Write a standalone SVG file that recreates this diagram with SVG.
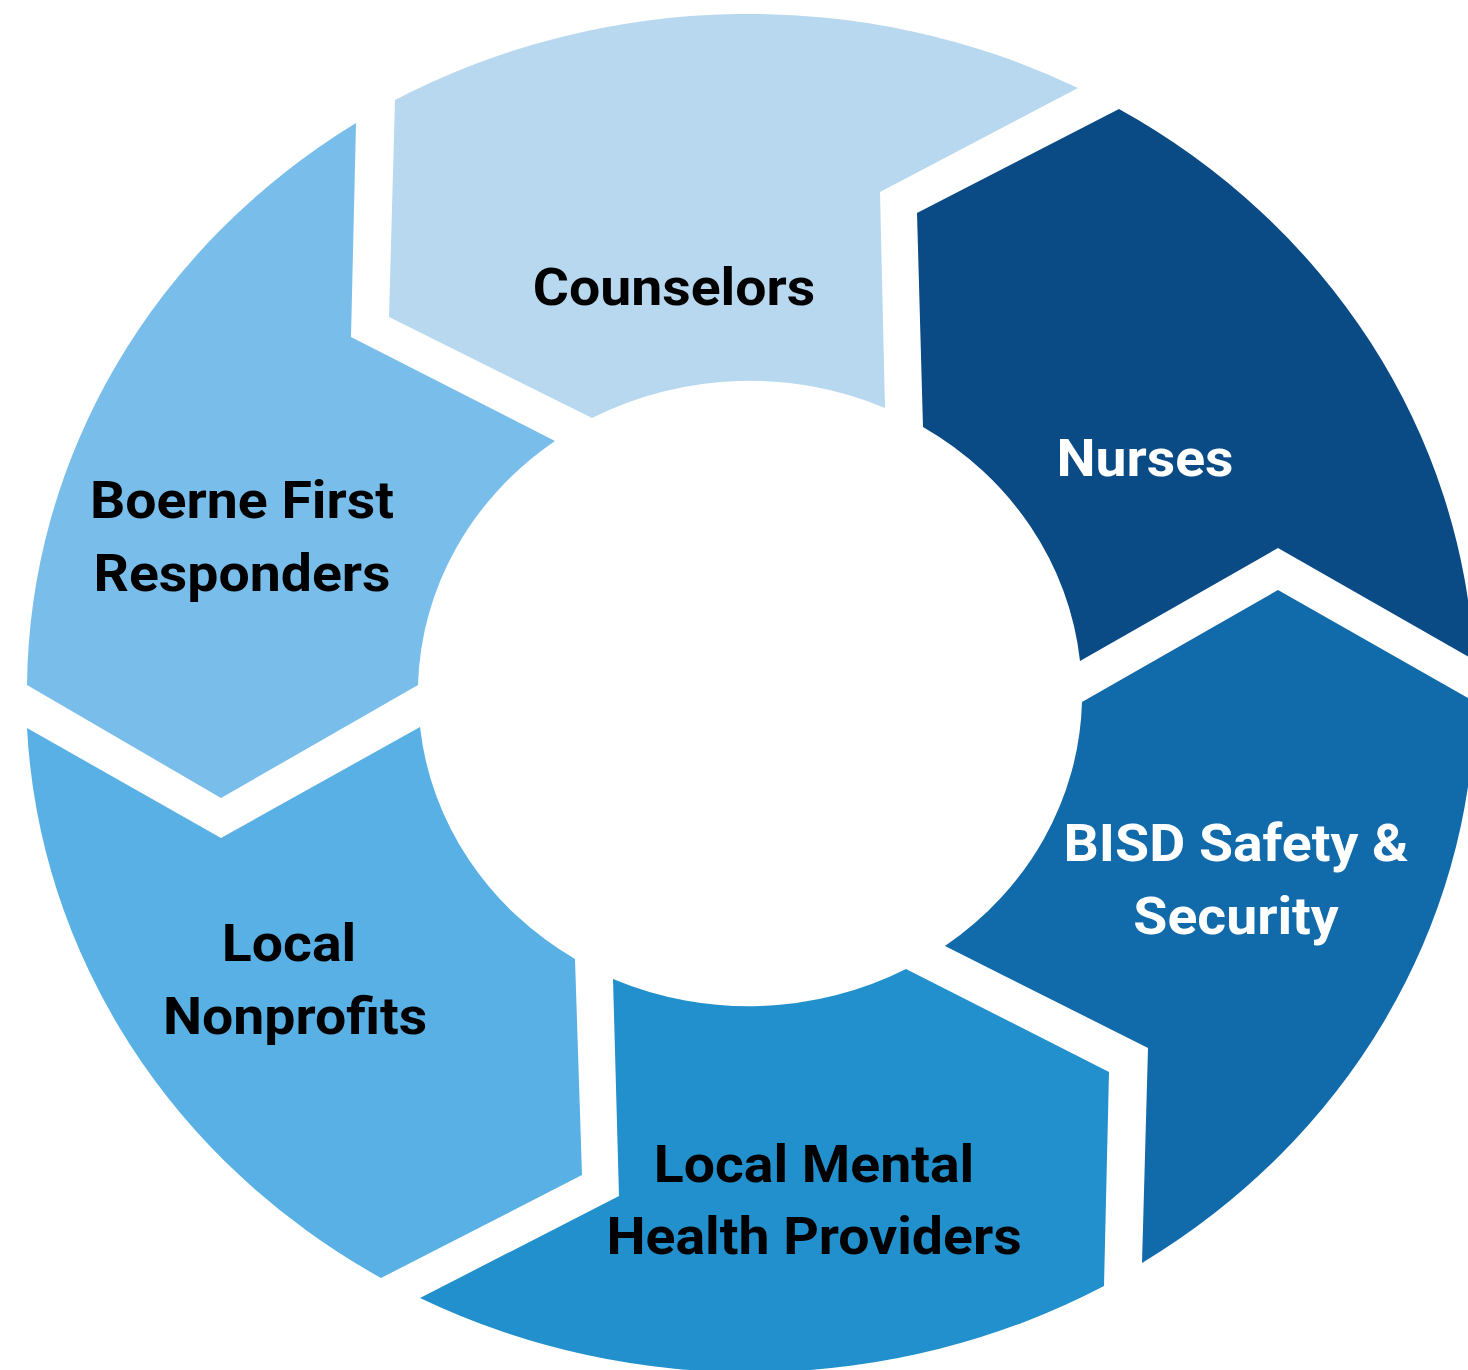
<svg xmlns="http://www.w3.org/2000/svg" width="1468" height="1370" viewBox="0 0 1468 1370">
  <style>
    .lbl { font-family: Roboto, "Liberation Sans", Arial, sans-serif; font-weight: 700; font-size: 52px; text-anchor: middle; }
    .dark { fill: #000000; }
    .light { fill: #ffffff; }
  </style>
  <rect width="1468" height="1370" fill="#ffffff"/>
  <g id="connectors"></g>
  <g id="counselors">
    <path fill="#B8D8EF" d="M 395,100 A 725 678.5 0 0 1 1078,88 L 880,192 L 885,408 A 332 311.5 0 0 0 592,418 L 389,317 Z"/>
    <text class="lbl dark" transform="translate(674,305) scale(1.065,1)">Counselors</text>
  </g>
  <g id="nurses">
    <path fill="#0A4A85" d="M 1119,109 A 725 678.5 0 0 1 1474,660 L 1278,548 L 1080,661 A 332 311.5 0 0 0 923,427 L 917,213 Z"/>
    <text class="lbl light" transform="translate(1145,476) scale(1.065,1)">Nurses</text>
  </g>
  <g id="bisd">
    <path fill="#116AAA" d="M 1278,590 L 1475,702 A 725 678.5 0 0 1 1142,1263 L 1148,1048 L 945,946 A 332 311.5 0 0 0 1082,702 Z"/>
    <text class="lbl light" transform="translate(1236,861) scale(1.065,1)">BISD Safety &amp;</text>
    <text class="lbl light" transform="translate(1236,934) scale(1.065,1)">Security</text>
  </g>
  <g id="mental">
    <path fill="#2290CD" d="M 1109,1072 L 1104,1286 A 725 678.5 0 0 1 420,1298 L 619,1196 L 613,979 A 332 311.5 0 0 0 906,969 Z"/>
    <text class="lbl dark" transform="translate(814,1182) scale(1.065,1)">Local Mental</text>
    <text class="lbl dark" transform="translate(814,1254) scale(1.065,1)">Health Providers</text>
  </g>
  <g id="nonprofits">
    <path fill="#59B0E4" d="M 582,1175 L 381,1278 A 725 678.5 0 0 1 27,728 L 221,838 L 420,727 A 332 311.5 0 0 0 575,959 Z"/>
    <text class="lbl dark" transform="translate(289,961) scale(1.065,1)">Local</text>
    <text class="lbl dark" transform="translate(295,1034) scale(1.065,1)">Nonprofits</text>
  </g>
  <g id="boerne">
    <path fill="#79BEEA" d="M 221,798 L 27,685 A 725 678.5 0 0 1 356,123 L 351,337 L 555,441 A 332 311.5 0 0 0 418,685 Z"/>
    <text class="lbl dark" transform="translate(242,518) scale(1.065,1)">Boerne First</text>
    <text class="lbl dark" transform="translate(242,591) scale(1.065,1)">Responders</text>
  </g>
</svg>
